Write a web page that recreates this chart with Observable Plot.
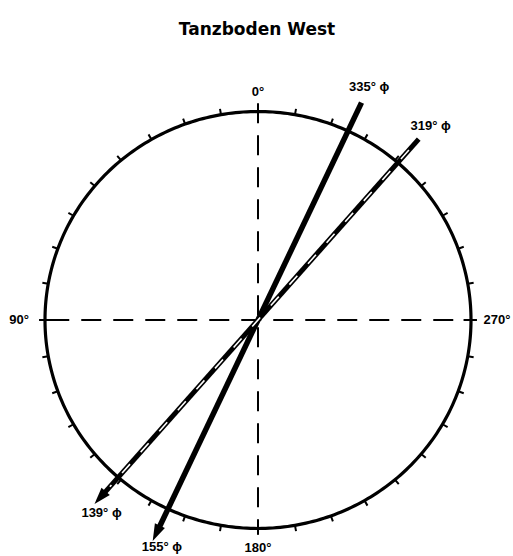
<!DOCTYPE html>
<html><head><meta charset="utf-8">
<script src="https://cdn.jsdelivr.net/npm/d3@7"></script>
<script src="https://cdn.jsdelivr.net/npm/@observablehq/plot@0.6"></script>
<style>body{margin:0;background:#fff}</style>
</head><body><div id="chart"></div>
<script>
const title = "Tanzboden West";
const strikeAngles = [335, 319];
const dipAngles = [155, 139];
const strikeLabels = ["335° ϕ", "319° ϕ"];
const dipLabels = ["155° ϕ", "139° ϕ"];
const cardinalAngles = [0, 90, 180, 270];
const cardinalLabels = ["0°", "90°", "180°", "270°"];
const tickStep = 10;

const rad = Math.PI / 180;
const px = (a, r) => -r * Math.sin(a * rad);
const py = (a, r) => r * Math.cos(a * rad);

const tickAngles = d3.range(0, 360, tickStep);
const circleAngles = d3.range(0, 361, 1);
const idx = strikeAngles.map((_, i) => i);

const arrowHead = {
  draw(ctx) { ctx.moveTo(0, 0); ctx.lineTo(-5.5, 17); ctx.lineTo(5.5, 17); ctx.closePath(); }
};

const font = "'Liberation Sans', Arial, sans-serif";

const chart = Plot.plot({
  width: 513,
  height: 556,
  margin: 0,
  style: {background: "#fff", fontFamily: font},
  x: {domain: [-1, 1], range: [44.5, 470.5], axis: null},
  y: {domain: [-1, 1], range: [528, 111], axis: null},
  marks: [
    // dashed cross
    Plot.link([[0, 180], [90, 270]], {
      x1: d => px(d[0], d[0] === 0 ? 1.04 : 0.98), y1: d => py(d[0], d[0] === 0 ? 1.04 : 0.98),
      x2: d => px(d[1], d[1] === 180 ? 1.03 : 0.99), y2: d => py(d[1], d[1] === 180 ? 1.03 : 0.99),
      stroke: "black", strokeWidth: 2, strokeDasharray: "20,12"
    }),
    // circle
    Plot.line(circleAngles, {x: a => px(a, 1), y: a => py(a, 1), stroke: "black", strokeWidth: 3.2}),
    // ticks
    Plot.link(tickAngles, {
      x1: a => px(a, a % 90 === 0 ? 0.965 : 1), y1: a => py(a, a % 90 === 0 ? 0.965 : 1),
      x2: a => px(a, 1.028), y2: a => py(a, 1.028),
      stroke: "black", strokeWidth: 2
    }),
    // direction shafts
    Plot.link(idx, {
      x1: i => px(strikeAngles[i], 1.15), y1: i => py(strikeAngles[i], 1.15),
      x2: i => px(dipAngles[i], 1.11), y2: i => py(dipAngles[i], 1.11),
      stroke: "black", strokeWidth: i => i === 0 ? 5.5 : 5, strokeLinecap: "butt"
    }),
    // white stripe for double line
    Plot.link([1], {
      x1: i => px(strikeAngles[i], 1.08), y1: i => py(strikeAngles[i], 1.08),
      x2: i => px(dipAngles[i], 1.06), y2: i => py(dipAngles[i], 1.06),
      stroke: "white", strokeWidth: 1.6, strokeDasharray: "12,16"
    }),
    // arrow heads
    Plot.dot(idx, {
      x: i => px(dipAngles[i], 1.17), y: i => py(dipAngles[i], 1.17),
      symbol: arrowHead, fill: "black", stroke: "none", rotate: i => -dipAngles[i]
    }),
    // strike labels
    Plot.text(idx, {
      x: i => px(strikeAngles[i], 1.235), y: i => py(strikeAngles[i], 1.235),
      text: i => strikeLabels[i], fontSize: 13, fontWeight: "bold", fill: "black"
    }),
    // dip labels
    Plot.text(idx, {
      x: i => px(dipAngles[i] + 2.5, 1.18), y: i => py(dipAngles[i] + 2.5, 1.18),
      text: i => dipLabels[i], fontSize: 13, fontWeight: "bold", fill: "black"
    }),
    // cardinal labels
    Plot.text(cardinalAngles, {
      x: a => px(a, a % 180 === 0 ? 1.095 : 1.122), y: a => py(a, a % 180 === 0 ? 1.095 : 1.122),
      text: (a, i) => cardinalLabels[i], fontSize: 13, fontWeight: "bold", fill: "black"
    }),
    // title
    Plot.text([title], {frameAnchor: "top", dy: 22, fontSize: 17, fontWeight: "bold", fill: "black",
      fontFamily: "'DejaVu Sans', sans-serif"})
  ]
});
document.getElementById("chart").append(chart);
</script>
</body></html>
